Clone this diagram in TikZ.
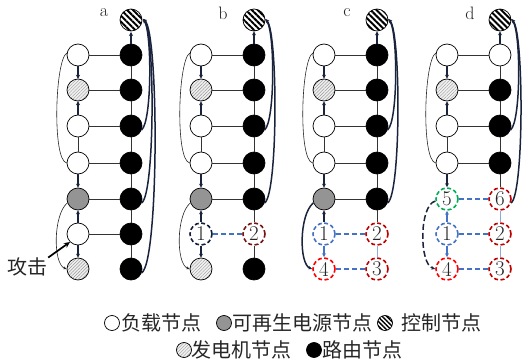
\documentclass[tikz,border=0pt]{standalone}
\usepackage{fontspec}
\newfontfamily\cjk{Noto Sans CJK SC}
\usetikzlibrary{patterns.meta,arrows.meta}
\definecolor{navy}{RGB}{25,35,60}
\definecolor{navyd}{RGB}{20,30,60}
\definecolor{blu}{RGB}{68,114,196}
\definecolor{lblue}{RGB}{142,169,219}
\definecolor{dred}{RGB}{192,0,0}
\definecolor{bred}{RGB}{255,0,0}
\definecolor{brd}{RGB}{120,20,20}
\definecolor{grn}{RGB}{0,176,80}
\tikzset{
  nd/.style={circle,minimum size=22pt,inner sep=0pt,draw=black,line width=0.7pt},
  load/.style={nd,fill=white},
  ren/.style={nd,fill=black!42},
  gen/.style={nd,preaction={fill=gray!12},pattern={Lines[angle=45,distance=2.3pt,line width=0.45pt]},pattern color=gray!80},
  ctrl/.style={nd,preaction={fill=white},pattern={Lines[angle=-45,distance=4.2pt,line width=2pt]},pattern color=black},
  rout/.style={nd,fill=black},
  dn/.style={circle,minimum size=22pt,inner sep=0pt,line width=1.6pt,dash pattern=on 4pt off 2.5pt,font=\fontsize{21}{21}\selectfont,text=black!85},
  lk/.style={draw=black!80,line width=0.7pt},
  ar/.style={draw=navy,line width=1.1pt,-{Stealth[length=4pt,width=4pt]}},
  arb/.style={draw=blu,line width=1.1pt,-{Stealth[length=4pt,width=4pt]}},
  bdash/.style={draw=blu,line width=1.6pt,dash pattern=on 5pt off 3pt},
  lb/.style={draw=lblue,line width=1pt},
  bigc/.style={draw=navy,line width=1.5pt,-{Stealth[length=4pt,width=3.5pt]}},
  thinc/.style={draw=black!85,line width=0.6pt},
  lbl/.style={font=\fontsize{18}{18}\selectfont,text=black!85},
  cjkt/.style={font=\cjk\fontsize{20}{20}\selectfont,text=black!85,inner sep=0pt}
}
\newcommand{\toppart}[2]{%
  \node[load] (#1L1) at (78,55) {};
  \node[gen]  (#1L2) at (78,90) {};
  \node[load] (#1L3) at (78,126) {};
  \node[load] (#1L4) at (78,163) {};
  \node[ctrl] (#1C)  at (131,20) {};
  \node[#2]   (#1R1) at (131,55) {};
  \node[rout] (#1R2) at (131,90) {};
  \node[rout] (#1R3) at (131,126) {};
  \node[rout] (#1R4) at (131,163) {};
  \draw[ar] (#1L1) -- (#1L2);
  \draw[ar] (#1L3) -- (#1L2);
  \draw[lk] (#1L3) -- (#1L4);
  \draw[ar] (#1R1) -- (#1C);
  \draw[lk] (#1R1) -- (#1R2) -- (#1R3) -- (#1R4);
  \draw[lk] (#1L1) -- (#1R1);
  \draw[lk] (#1L2) -- (#1R2);
  \draw[lk] (#1L3) -- (#1R3);
  \draw[lk] (#1L4) -- (#1R4);
  \draw[thinc] (#1L1.170) .. controls (55,60) and (52,160) .. (#1L4.180);
}
\newcommand{\rcurve}[4]{%
  \draw[bigc] (#1R#2.-20) .. controls (#3,#4) and (#3,32) .. (#1C.5);
}
\begin{document}
\begin{tikzpicture}[x=1pt,y=-1pt]
\useasboundingbox (0,0) rectangle (523,364);

% ---------- panel a ----------
\node[lbl] (la) at (104,13) {a};
\toppart{a}{rout}
\node[ren]  (aL5) at (78,199) {};
\node[load] (aL6) at (78,234) {};
\node[gen]  (aL7) at (78,269) {};
\node[rout] (aR5) at (131,199) {};
\node[rout] (aR6) at (131,234) {};
\node[rout] (aR7) at (131,269) {};
\draw[ar] (aL4) -- (aL5);
\draw[ar] (aL6) -- (aL5);
\draw[ar] (aL6) -- (aL7);
\draw[lk] (aR4) -- (aR5) -- (aR6) -- (aR7);
\draw[lk] (aL5) -- (aR5);
\draw[lk] (aL6) -- (aR6);
\draw[thinc,-{Stealth[length=3.5pt,width=3pt]}] (aL5.200) .. controls (53,215) and (53,264) .. (aL7.180);
\rcurve{a}{3}{152}{121}
\rcurve{a}{5}{155}{194}
\rcurve{a}{7}{159}{262}
\node[cjkt] (atk) at (28,267) {攻击};
\draw[draw=black,line width=1.7pt,-{Stealth[length=6pt,width=5.5pt]}] (atk.north east) -- (aL6.225);

% ---------- panel b ----------
\begin{scope}[xshift=123pt]
\node[lbl] (lb) at (100,13) {b};
\toppart{b}{rout}
\node[ren]  (bL5) at (78,199) {};
\node[dn,draw=navyd] (bL6) at (78,234) {1};
\node[gen]  (bL7) at (78,269) {};
\node[rout] (bR5) at (131,199) {};
\node[dn,draw=brd] (bR6) at (131,234) {2};
\node[rout] (bR7) at (131,269) {};
\draw[ar] (bL4) -- (bL5);
\draw[ar] (bL6) -- (bL5);
\draw[ar] (bL6) -- (bL7);
\draw[lk] (bR4) -- (bR5) -- (bR6) -- (bR7);
\draw[lk] (bL5) -- (bR5);
\draw[bdash] (bL6) -- (bR6);
\draw[thinc,-{Stealth[length=3.5pt,width=3pt]}] (bL5.200) .. controls (53,215) and (53,264) .. (bL7.180);
\rcurve{b}{3}{152}{121}
\rcurve{b}{5}{155}{194}
\end{scope}

% ---------- panel c ----------
\begin{scope}[xshift=246pt]
\node[lbl] (lc) at (101,13) {c};
\toppart{c}{rout}
\node[ren]  (cL5) at (78,199) {};
\node[dn,draw=blu]  (cL6) at (78,234) {1};
\node[dn,draw=bred] (cL7) at (78,269) {4};
\node[rout] (cR5) at (131,199) {};
\node[dn,draw=dred] (cR6) at (131,234) {2};
\node[dn,draw=dred] (cR7) at (131,269) {3};
\draw[ar] (cL4) -- (cL5);
\draw[ar] (cL6) -- (cL5);
\draw[arb] (cL6) -- (cL7);
\draw[lk] (cR4) -- (cR5) -- (cR6);
\draw[lb] (cR6) -- (cR7);
\draw[lk] (cL5) -- (cR5);
\draw[bdash] (cL6) -- (cR6);
\draw[bdash] (cL7) -- (cR7);
\draw[bigc] (cL5.200) .. controls (53,215) and (53,264) .. (cL7.180);
\rcurve{c}{3}{152}{121}
\rcurve{c}{5}{155}{194}
\end{scope}

% ---------- panel d ----------
\begin{scope}[xshift=369pt]
\node[lbl] (ld) at (101,13) {d};
\toppart{d}{load}
\node[dn,draw=grn]  (dL5) at (78,199) {5};
\node[dn,draw=blu]  (dL6) at (78,234) {1};
\node[dn,draw=bred] (dL7) at (78,269) {4};
\node[dn,draw=dred] (dR5) at (131,199) {6};
\node[dn,draw=dred] (dR6) at (131,234) {2};
\node[dn,draw=dred] (dR7) at (131,269) {3};
\draw[ar] (dL4) -- (dL5);
\draw[arb] (dL6) -- (dL5);
\draw[arb] (dL6) -- (dL7);
\draw[lk] (dR4) -- (dR5);
\draw[lb] (dR5) -- (dR6) -- (dR7);
\draw[bdash] (dL5) -- (dR5);
\draw[bdash] (dL6) -- (dR6);
\draw[bdash] (dL7) -- (dR7);
\draw[bigc,dash pattern=on 6pt off 3pt] (dL5.190) .. controls (50,205) and (50,264) .. (dL7.180);
\rcurve{d}{3}{152}{121}
\rcurve{d}{5}{155}{194}
\end{scope}

% ---------- legend ----------
\node[load,minimum size=15pt] (g1) at (112,323) {};
\node[cjkt,anchor=west] (t1) at (121,323) {负载节点};
\node[ren,minimum size=15pt] (g2) at (224,323) {};
\node[cjkt,anchor=west] (t2) at (232,323) {可再生电源节点};
\node[ctrl,minimum size=15pt,pattern={Lines[angle=-45,distance=3.2pt,line width=1.5pt]}] (g3) at (385,323) {};
\node[cjkt,anchor=west] (t3) at (401,323) {控制节点};
\node[gen,minimum size=15pt] (g4) at (184,350) {};
\node[cjkt,anchor=west] (t4) at (191,350) {发电机节点};
\node[rout,minimum size=15pt] (g5) at (314,350) {};
\node[cjkt,anchor=west] (t5) at (322,350) {路由节点};
\end{tikzpicture}
\end{document}
